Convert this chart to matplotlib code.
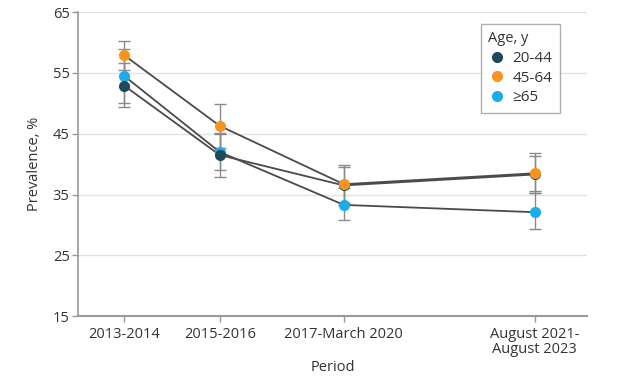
import matplotlib
matplotlib.use("Agg")
import matplotlib.pyplot as plt
from matplotlib.lines import Line2D

periods = ["2013-2014", "2015-2016", "2017-March 2020", "August 2021-\nAugust 2023"]
period_midyear = [2014.0, 2016.0, 2018.6, 2022.6]

groups = ["20-44", "45-64", "≥65"]
colors = {"20-44": "#1d4a5a", "45-64": "#f7931e", "≥65": "#19aeea"}

prev_20_44 = [52.9, 41.5, 36.5, 38.3]
low_20_44 = [49.4, 37.9, 33.3, 35.3]
high_20_44 = [56.6, 45.0, 39.6, 41.3]

prev_45_64 = [57.9, 46.3, 36.7, 38.5]
low_45_64 = [55.5, 42.7, 33.6, 35.6]
high_45_64 = [60.3, 49.9, 39.8, 41.9]

prev_65 = [54.5, 42.0, 33.3, 32.1]
low_65 = [50.0, 39.0, 30.8, 29.3]
high_65 = [58.9, 45.1, 36.0, 35.2]

series = {
    "20-44": (prev_20_44, low_20_44, high_20_44),
    "45-64": (prev_45_64, low_45_64, high_45_64),
    "≥65": (prev_65, low_65, high_65),
}

yticks = [15, 25, 35, 45, 55, 65]

plt.rcParams['font.family'] = ['Open Sans', 'DejaVu Sans']

fig = plt.figure(figsize=(6.24, 3.8), dpi=100)
ax = fig.add_axes([0.125, 0.168, 0.816, 0.80])

for g in ["≥65", "20-44", "45-64"]:
    v, lo, hi = series[g]
    yerr = [[a - b for a, b in zip(v, lo)], [c - a for a, c in zip(v, hi)]]
    ax.errorbar(period_midyear, v, yerr=yerr, fmt='none', ecolor='#8a8a8a',
                elinewidth=1.0, capsize=4.5, capthick=1.0, zorder=2)
for g in ["≥65", "20-44", "45-64"]:
    v, lo, hi = series[g]
    ax.plot(period_midyear, v, color='#4a4a4a', lw=1.3, zorder=3)
for i, g in enumerate(["≥65", "20-44", "45-64"]):
    v, lo, hi = series[g]
    ax.plot(period_midyear, v, 'o', color=colors[g], ms=8, mec='none', zorder=4 + i)

ax.set_xlim(2013.03, 2023.7)
ax.set_ylim(15, 65)
ax.set_yticks(yticks)
ax.set_xticks(period_midyear)
ax.set_xticklabels(periods, fontsize=10.5, color='#333333', linespacing=1.0)
ax.tick_params(axis='y', labelsize=10.5, colors='#333333', length=4, width=1, color='#999999', pad=2)
ax.tick_params(axis='x', length=4, width=1, color='#999999', pad=4)
ax.grid(axis='y', color='#e3e3e3', lw=1)
ax.set_axisbelow(True)
for s in ['top', 'right']:
    ax.spines[s].set_visible(False)
ax.spines['left'].set_color('#9a9a9a')
ax.spines['bottom'].set_color('#9a9a9a')
ax.spines['bottom'].set_linewidth(1.5)
ax.spines['left'].set_linewidth(1.2)

ax.set_ylabel("Prevalence, %", fontsize=10.5, color='#333333', labelpad=8)
ax.set_xlabel("Period", fontsize=10.5, color='#333333', labelpad=2)

handles = [Line2D([], [], marker='o', ls='none', color=colors[g], ms=8, mec='none') for g in groups]
leg = ax.legend(handles, groups, title="Age, y", loc='upper right',
                bbox_to_anchor=(0.947, 0.962), borderaxespad=0, frameon=True, fancybox=False,
                edgecolor='#9a9a9a', fontsize=11, title_fontsize=10.5,
                handletextpad=0.4, handlelength=1.2, labelspacing=0.3,
                borderpad=0.5, alignment='left')
leg.get_frame().set_linewidth(1.0)
for t in leg.get_texts():
    t.set_color('#333333')
leg.get_title().set_color('#333333')

fig.savefig("out.png", dpi=100)
